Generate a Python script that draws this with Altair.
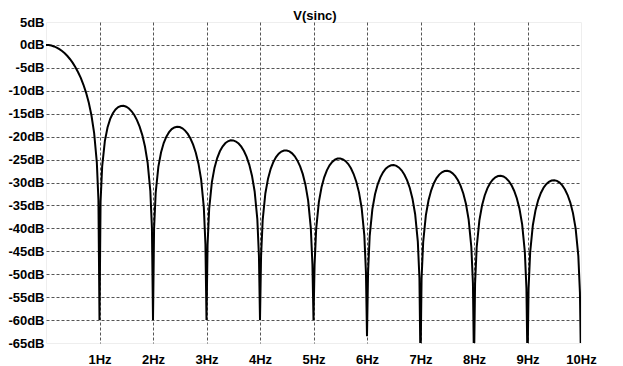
import altair as alt
import pandas as pd

# Frequency (Hz) and level (dB), lobe by lobe
freq_hz = [
    0, 0.05, 0.10, 0.15, 0.20, 0.25, 0.30, 0.35, 0.40, 0.45, 0.50, 0.55, 0.60, 0.65, 0.70, 0.75, 0.80, 0.85, 0.90, 0.95, 0.98,
    1.00, 1.02, 1.05, 1.10, 1.15, 1.20, 1.25, 1.30, 1.35, 1.40, 1.45, 1.50, 1.55, 1.60, 1.65, 1.70, 1.75, 1.80, 1.85, 1.90, 1.95, 1.98,
    2.00, 2.02, 2.05, 2.10, 2.15, 2.20, 2.25, 2.30, 2.35, 2.40, 2.45, 2.50, 2.55, 2.60, 2.65, 2.70, 2.75, 2.80, 2.85, 2.90, 2.95, 2.98,
    3.00, 3.02, 3.05, 3.10, 3.15, 3.20, 3.25, 3.30, 3.35, 3.40, 3.45, 3.50, 3.55, 3.60, 3.65, 3.70, 3.75, 3.80, 3.85, 3.90, 3.95, 3.98,
    4.00, 4.02, 4.05, 4.10, 4.15, 4.20, 4.25, 4.30, 4.35, 4.40, 4.45, 4.50, 4.55, 4.60, 4.65, 4.70, 4.75, 4.80, 4.85, 4.90, 4.95, 4.98,
    5.00, 5.02, 5.05, 5.10, 5.15, 5.20, 5.25, 5.30, 5.35, 5.40, 5.45, 5.50, 5.55, 5.60, 5.65, 5.70, 5.75, 5.80, 5.85, 5.90, 5.95, 5.98,
    6.00, 6.02, 6.05, 6.10, 6.15, 6.20, 6.25, 6.30, 6.35, 6.40, 6.45, 6.50, 6.55, 6.60, 6.65, 6.70, 6.75, 6.80, 6.85, 6.90, 6.95, 6.98,
    7.00, 7.02, 7.05, 7.10, 7.15, 7.20, 7.25, 7.30, 7.35, 7.40, 7.45, 7.50, 7.55, 7.60, 7.65, 7.70, 7.75, 7.80, 7.85, 7.90, 7.95, 7.98,
    8.00, 8.02, 8.05, 8.10, 8.15, 8.20, 8.25, 8.30, 8.35, 8.40, 8.45, 8.50, 8.55, 8.60, 8.65, 8.70, 8.75, 8.80, 8.85, 8.90, 8.95, 8.98,
    9.00, 9.02, 9.05, 9.10, 9.15, 9.20, 9.25, 9.30, 9.35, 9.40, 9.45, 9.50, 9.55, 9.60, 9.65, 9.70, 9.75, 9.80, 9.85, 9.90, 9.95, 9.98,
    10.00,
]
level_db = [
    0, -0.03, -0.14, -0.33, -0.58, -0.91, -1.33, -1.82, -2.42, -3.12, -3.92, -4.86, -5.95, -7.20, -8.69, -10.45, -12.62, -15.39, -19.23, -25.61, -33.81,
    -60, -34.16, -26.48, -20.97, -18.02, -16.14, -14.89, -14.06, -13.55, -13.31, -13.28, -13.47, -13.86, -14.47, -15.29, -16.39, -17.81, -19.66, -22.15, -25.72, -31.85, -39.92,
    -60, -40.09, -32.29, -26.59, -23.45, -21.40, -20.00, -19.02, -18.36, -17.99, -17.84, -17.90, -18.18, -18.68, -19.41, -20.41, -21.74, -23.50, -25.90, -29.39, -35.45, -43.47,
    -60, -43.58, -35.74, -29.97, -26.77, -24.66, -23.19, -22.15, -21.44, -21.01, -20.81, -20.82, -21.06, -21.51, -22.19, -23.15, -24.43, -26.15, -28.51, -31.96, -37.98, -45.98,
    -60, -46.07, -38.20, -32.40, -29.16, -27.02, -25.52, -24.45, -23.71, -23.25, -23.02, -23.01, -23.21, -23.64, -24.29, -25.23, -26.49, -28.18, -30.52, -33.95, -39.95, -47.93,
    -60, -48.00, -40.12, -34.29, -31.04, -28.87, -27.36, -26.27, -25.51, -25.03, -24.78, -24.75, -24.94, -25.35, -25.98, -26.90, -28.15, -29.82, -32.15, -35.56, -41.54, -49.52,
    -63.5, -49.58, -41.69, -35.85, -32.58, -30.40, -28.87, -27.77, -27.00, -26.51, -26.24, -26.20, -26.38, -26.77, -27.40, -28.30, -29.54, -31.20, -33.52, -36.92, -42.89, -50.86,
    -70, -50.91, -43.02, -37.17, -33.89, -31.70, -30.16, -29.05, -28.27, -27.77, -27.50, -27.44, -27.61, -28.00, -28.62, -29.51, -30.74, -32.39, -34.70, -38.10, -44.06, -52.02,
    -70, -52.07, -44.17, -38.31, -35.03, -32.83, -31.28, -30.17, -29.38, -28.87, -28.59, -28.53, -28.69, -29.07, -29.68, -30.57, -31.79, -33.44, -35.74, -39.13, -45.09, -53.05,
    -70, -53.09, -45.19, -39.32, -36.03, -33.83, -32.28, -31.15, -30.36, -29.85, -29.56, -29.50, -29.65, -30.03, -30.63, -31.52, -32.73, -34.38, -36.67, -40.05, -46.01, -53.97,
    -70,
]

x_ticks = [1, 2, 3, 4, 5, 6, 7, 8, 9, 10]
y_ticks = [5, 0, -5, -10, -15, -20, -25, -30, -35, -40, -45, -50, -55, -60, -65]
title_text = ["V(sinc)"]

FONT = "Liberation Sans"
GRID = "#555555"

df = pd.DataFrame({"f": freq_hz, "db": level_db})

x_enc = alt.X(
    "f:Q",
    scale=alt.Scale(domain=[0, 10], nice=False, zero=False),
    axis=alt.Axis(
        values=x_ticks, title=None, labelExpr="datum.value + 'Hz'",
        grid=True, gridColor=GRID, gridDash=[3, 2], gridWidth=1,
        gridOpacity={"condition": {"test": "datum.value >= 10", "value": 0}, "value": 1},
        domain=False, ticks=False, tickSize=0, labelPadding=10,
        labelFont=FONT, labelFontSize=13, labelFontWeight="bold", labelColor="black",
        labelFlush=False, labelOverlap=False, labelBound=False,
    ),
)
y_enc = alt.Y(
    "db:Q",
    scale=alt.Scale(domain=[-65, 5], nice=False, zero=False),
    axis=alt.Axis(
        values=y_ticks, title=None, labelExpr="datum.value + 'dB'",
        grid=True, gridColor=GRID, gridDash=[3, 2], gridWidth=1,
        gridOpacity={"condition": {"test": "datum.value >= 5 || datum.value <= -65", "value": 0}, "value": 1},
        domain=False, ticks=False, tickSize=0, labelPadding=2,
        labelFont=FONT, labelFontSize=13, labelFontWeight="bold", labelColor="black",
        labelFlush=False, labelOverlap=False, labelBound=False,
    ),
)

curve = alt.Chart(df).mark_line(
    color="black", strokeWidth=2, clip=True, interpolate="linear"
).encode(x=x_enc, y=y_enc)

title = alt.Chart(pd.DataFrame({"t": title_text})).mark_text(
    font=FONT, fontSize=13, fontWeight="bold", color="black",
    align="center", baseline="alphabetic",
).encode(text="t:N", x=alt.value(269), y=alt.value(-2))

chart = alt.layer(curve, title).properties(
    width=535, height=321,
    autosize=alt.AutoSizeParams(type="none"),
    padding={"left": 38, "top": 14, "right": 30, "bottom": 22},
    background="white",
).configure_view(stroke="#eeeeee", strokeWidth=1)

chart.save("out.html", embed_options={"renderer": "svg", "actions": False})
